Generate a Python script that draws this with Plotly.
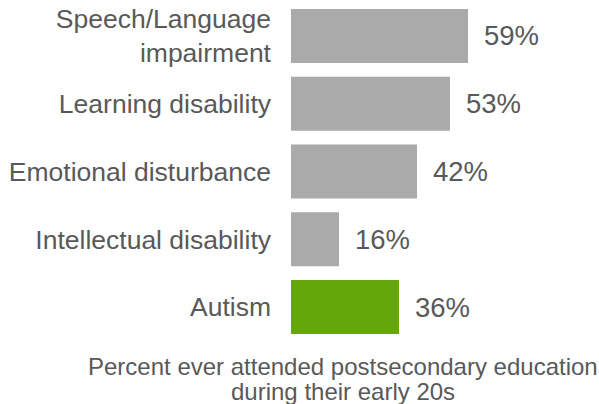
import plotly.graph_objects as go

categories = ["Speech/Language<br>impairment", "Learning disability", "Emotional disturbance",
              "Intellectual disability", "Autism"]
values = [59, 53, 42, 16, 36]
value_labels = ["59%", "53%", "42%", "16%", "36%"]
bar_colors = ["#aaaaaa", "#aaaaaa", "#aaaaaa", "#aaaaaa", "#64a70b"]
axis_title_lines = ["Percent ever attended postsecondary education", "during their early 20s"]

FONT = "Liberation Sans, Arial, Helvetica, sans-serif"
TEXT_COLOR = "#595959"

fig = go.Figure()
fig.add_trace(go.Bar(
    x=values, y=categories, orientation="h",
    marker=dict(color=bar_colors, line=dict(width=0)),
    hoverinfo="skip", showlegend=False,
))

annotations = []
for cat, v, lab in zip(categories, values, value_labels):
    annotations.append(dict(
        x=v, y=cat, xref="x", yref="y", text=lab, showarrow=False,
        xanchor="left", yanchor="middle", xshift=14,
        font=dict(family=FONT, size=27.5, color=TEXT_COLOR),
    ))
for i, line in enumerate(axis_title_lines):
    annotations.append(dict(
        x=0, y=0, xref="paper", yref="paper", text=line, showarrow=False,
        xanchor="center", yanchor="middle", xshift=52, yshift=-25 - 25 * i,
        font=dict(family=FONT, size=24, color=TEXT_COLOR),
    ))

fig.update_layout(
    width=599, height=404,
    margin=dict(l=291, r=0, t=2, b=63, pad=0),
    paper_bgcolor="white", plot_bgcolor="white",
    bargap=0.203,
    font=dict(family=FONT, color=TEXT_COLOR),
    annotations=annotations,
    xaxis=dict(range=[0, 308 / 3], visible=False, fixedrange=True),
    yaxis=dict(
        autorange="reversed", showgrid=False, zeroline=False, showline=False,
        ticks="", ticklabelstandoff=19, automargin=False, fixedrange=True,
        tickfont=dict(family=FONT, size=26.5, color=TEXT_COLOR),
    ),
)

fig.write_html(
    "out.html",
    config={"displayModeBar": False, "staticPlot": True},
    post_script="document.body.style.margin='0px';document.body.style.overflow='hidden';",
)
